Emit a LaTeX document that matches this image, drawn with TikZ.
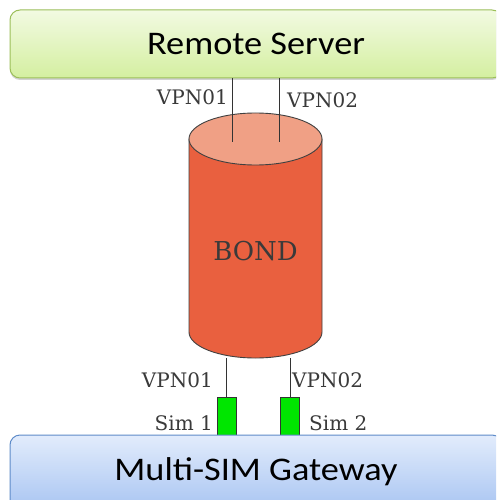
\documentclass[tikz,border=0pt]{standalone}
\usepackage{fontspec}
\setmainfont{DejaVu Serif}
\newfontfamily\boxfont{Carlito}
\usetikzlibrary{shadows}
\definecolor{srvtop}{HTML}{F2FAE2}
\definecolor{srvbot}{HTML}{D4EFA0}
\definecolor{srvedge}{HTML}{9CBF5A}
\definecolor{gwtop}{HTML}{E2ECFC}
\definecolor{gwbot}{HTML}{A9C5F2}
\definecolor{gwedge}{HTML}{5E8BC9}
\definecolor{bondbody}{HTML}{E9603F}
\definecolor{bondtop}{HTML}{F0A085}
\definecolor{simgreen}{HTML}{00E600}
\definecolor{labelgray}{HTML}{3A3A3A}
\tikzset{
  panel/.style={rounded corners=10pt, line width=1pt, minimum width=492pt,
    inner sep=0pt, font=\boxfont\fontsize{33}{36}\selectfont},
  serverbox/.style={panel, draw=srvedge, top color=srvtop, bottom color=srvbot,
    minimum height=68pt, drop shadow={shadow xshift=0pt, shadow yshift=-2pt, opacity=0.35}},
  gatewaybox/.style={panel, draw=gwedge, top color=gwtop, bottom color=gwbot,
    minimum height=74pt},
  simbox/.style={draw=black!80, fill=simgreen, line width=0.8pt,
    minimum width=19pt, minimum height=40pt, inner sep=0pt},
  wire/.style={draw=black!80, line width=0.9pt},
  lbl/.style={text=labelgray, font=\fontsize{20}{22}\selectfont, inner sep=0pt},
}
\begin{document}
\begin{tikzpicture}[x=1pt, y=-1pt]
\useasboundingbox (0,0) rectangle (496,500);
\clip (0,0) rectangle (496,500);
\fill[white] (0,0) rectangle (496,500);

% SIM slots sit behind the gateway panel
\node[simbox] (sim1) at (226.5,417) {};
\node[simbox] (sim2) at (290,417) {};

% Gateway panel
\node[gatewaybox] (gw) at (256,472) {\scalebox{1.1}[1]{Multi-SIM Gateway}};

% Server panel
\node[serverbox] (srv) at (256,44) {\scalebox{1.1}[1]{Remote Server}};

% BOND cylinder (y axis points down, so the lower rim runs 180 -> 0)
\coordinate (ctop) at (255.5,139);
\coordinate (cbot) at (255.5,332);
\path[fill=bondbody, draw=black!75, line width=0.9pt]
  (189,139) -- (189,332) arc[start angle=180, end angle=0, x radius=66.5, y radius=26]
  -- (322,139) -- cycle;
\path[fill=bondtop, draw=black!75, line width=0.9pt]
  (ctop) ellipse[x radius=66.5, y radius=26];
\node[text=labelgray, font=\fontsize{26}{28}\selectfont] (bond) at (255.5,251) {BOND};

% tunnels from the server into the bond
\coordinate (in1) at (232,142);
\coordinate (in2) at (279,142);
\draw[wire] (in1 |- srv.south) -- (in1);
\draw[wire] (in2 |- srv.south) -- (in2);
\node[lbl, anchor=east] (vpnA) at (228,97) {VPN01};
\node[lbl, anchor=west] (vpnB) at (287,100) {VPN02};

% tunnels from the bond down to the SIM slots
\coordinate (out1) at (226.5,358);
\coordinate (out2) at (290,358);
\draw[wire] (out1) -- (sim1.north);
\draw[wire] (out2) -- (sim2.north);
\node[lbl, anchor=east] (vpnC) at (213,380) {VPN01};
\node[lbl, anchor=west] (vpnD) at (292,380) {VPN02};
\node[lbl, anchor=east] (simA) at (213,423) {Sim 1};
\node[lbl, anchor=west] (simB) at (309,423) {Sim 2};
\end{tikzpicture}
\end{document}
